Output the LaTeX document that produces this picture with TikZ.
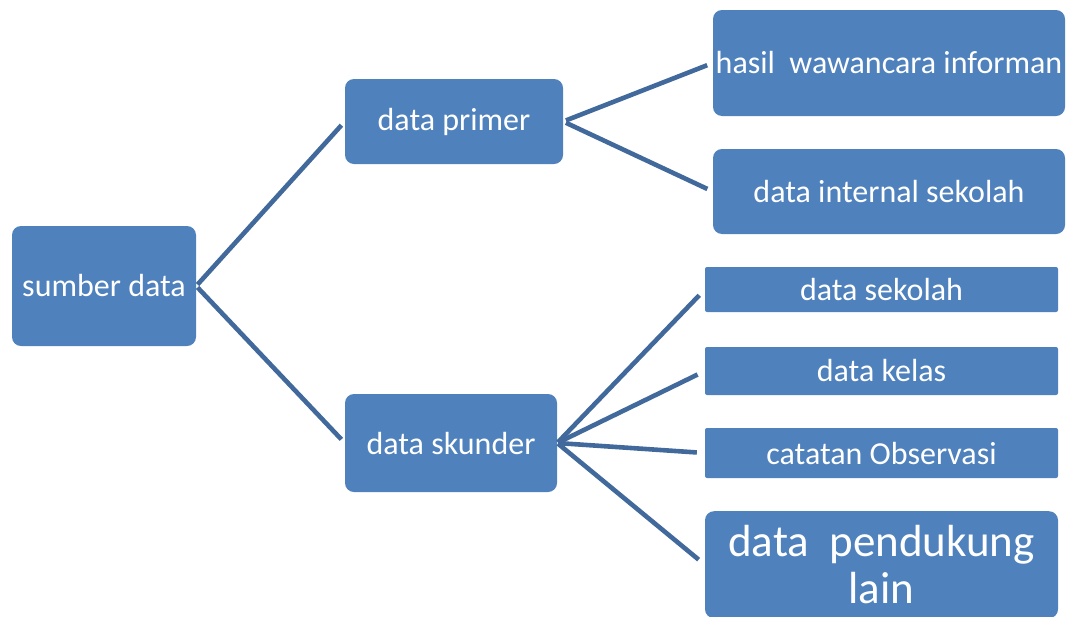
\documentclass[tikz,border=0pt]{standalone}
\usepackage{fontspec}
\setmainfont{Carlito}
\definecolor{boxblue}{HTML}{4F81BD}
\definecolor{linkblue}{HTML}{41699B}
\begin{document}
\begin{tikzpicture}[x=1pt, y=-1pt, font=\fontsize{32}{38}\selectfont]
    \tikzset{
        box/.style={fill=boxblue, text=white, rounded corners=9pt, inner sep=0pt, align=center},
        flatbox/.style={box, rounded corners=2pt, minimum width=353pt},
        link/.style={draw=linkblue, line width=4.6pt}
    }
    \useasboundingbox (0,0) rectangle (1070,616);

    % root and the two kinds of data
    \node[box, minimum width=184pt, minimum height=120pt] (sumber) at (104,286) {sumber data};
    \node[box, minimum width=218pt, minimum height=85pt] (primer) at (454,121.5) {data primer};
    \node[box, minimum width=212pt, minimum height=98pt] (skunder) at (451,443) {data skunder};

    % primary data sources
    \node[box, minimum width=352pt, minimum height=106pt] (hasil) at (889,63) {hasil\ \ wawancara informan};
    \node[box, minimum width=352pt, minimum height=85pt] (internal) at (889,191.5) {data internal sekolah};

    % secondary data sources
    \node[flatbox, minimum height=45pt] (sekolah) at (881.5,289.5) {data sekolah};
    \node[flatbox, minimum height=48pt] (kelas) at (881.5,371) {data kelas};
    \node[flatbox, minimum height=50pt] (observasi) at (881.5,453) {catatan Observasi};
    \node[box, minimum width=353pt, minimum height=107pt, anchor=north, font=\fontsize{45}{49}\selectfont]
        (pendukung) at (881.5,511) {data\ \ pendukung\\[-2pt]lain};

    % connectors
    \draw[link, shorten <=2pt, shorten >=5pt] (sumber.east) -- (primer.west);
    \draw[link, shorten <=2pt, shorten >=5pt] (sumber.east) -- (skunder.west);
    \draw[link, shorten <=3pt, shorten >=6pt] (primer.east) -- (hasil.west);
    \draw[link, shorten <=3pt, shorten >=6pt] (primer.east) -- (internal.west);
    \foreach \leaf in {sekolah, kelas, observasi, pendukung}
        \draw[link, shorten <=1pt, shorten >=8pt] (skunder.east) -- (\leaf.west);
\end{tikzpicture}
\end{document}
